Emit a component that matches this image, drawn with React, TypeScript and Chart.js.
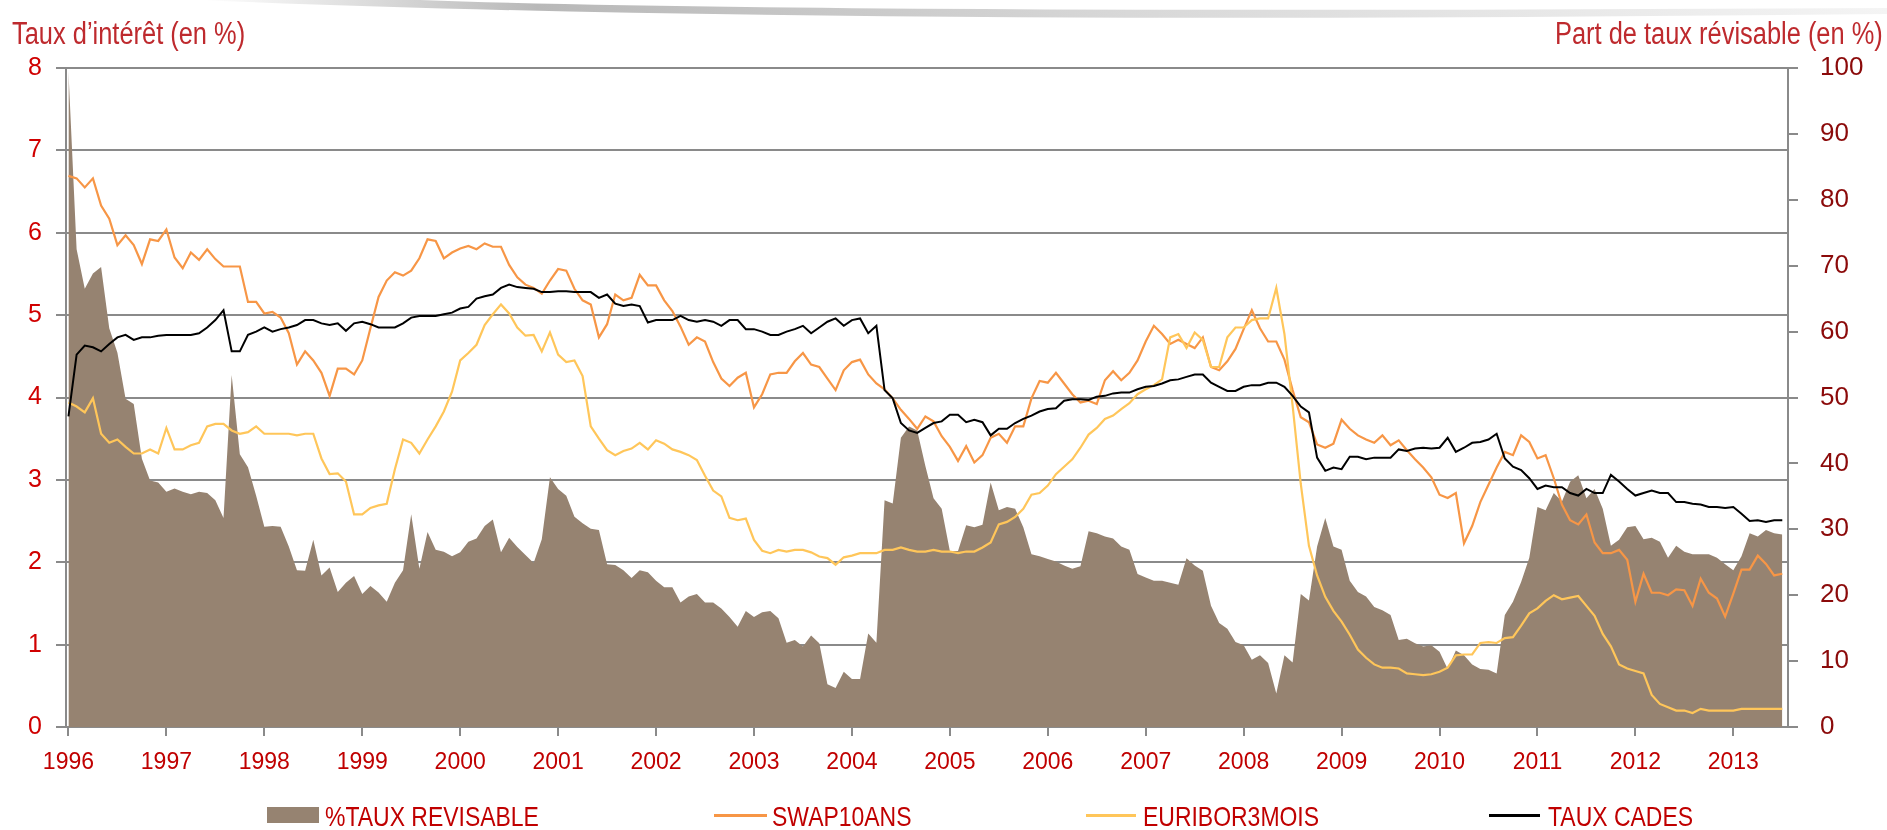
import React, { useEffect, useRef } from "react";
import { Chart, registerables } from "chart.js";

Chart.register(...registerables);

// ---------- DATA (monthly, Jan 1996 - Jul 2013) ----------
const START_YEAR = 1996;
const YEAR_LABELS = [1996, 1997, 1998, 1999, 2000, 2001, 2002, 2003, 2004, 2005, 2006, 2007, 2008, 2009, 2010, 2011, 2012, 2013];

// %TAUX REVISABLE (right axis, %)
const tauxRevisable = [
  99.5, 72.5, 66.5, 68.8, 69.8, 60.5, 56.8, 49.8, 49.0, 40.7, 37.4, 37.1,
  35.7, 36.2, 35.7, 35.3, 35.7, 35.5, 34.4, 31.7, 53.4, 41.4, 39.4, 35.1,
  30.4, 30.5, 30.4, 27.4, 23.8, 23.7, 28.4, 23.0, 24.2, 20.5, 21.9, 22.9,
  20.2, 21.4, 20.4, 19.0, 21.9, 23.8, 32.3, 24.0, 29.6, 26.9, 26.6, 25.9,
  26.5, 28.1, 28.6, 30.5, 31.5, 26.5, 28.7, 27.3, 26.1, 24.9, 28.5, 37.9,
  36.1, 35.1, 31.9, 30.9, 30.1, 29.9, 24.7, 24.6, 23.8, 22.6, 23.8, 23.5,
  22.2, 21.2, 21.2, 18.9, 19.8, 20.2, 18.9, 18.9, 18.0, 16.7, 15.2, 17.6,
  16.7, 17.4, 17.6, 16.5, 12.8, 13.2, 12.2, 13.9, 12.7, 6.5, 5.9, 8.4,
  7.3, 7.3, 14.2, 12.8, 34.4, 33.9, 43.9, 45.6, 45.0, 39.6, 34.7, 33.1,
  26.7, 26.7, 30.6, 30.3, 30.7, 37.1, 32.9, 33.4, 33.1, 30.3, 26.2, 25.9,
  25.5, 25.1, 24.5, 24.0, 24.4, 29.7, 29.4, 28.9, 28.6, 27.4, 26.9, 23.2,
  22.7, 22.2, 22.2, 21.9, 21.6, 25.6, 24.5, 23.7, 18.4, 15.8, 14.9, 12.9,
  12.4, 10.2, 10.9, 9.7, 5.1, 10.9, 9.8, 20.2, 19.2, 27.4, 31.7, 27.4,
  26.9, 22.2, 20.5, 19.8, 18.2, 17.7, 17.0, 13.2, 13.4, 12.7, 12.2, 12.4,
  11.4, 8.8, 11.6, 10.9, 9.5, 8.8, 8.7, 8.1, 17.0, 19.0, 22.0, 25.7,
  33.4, 32.9, 35.5, 34.2, 37.2, 38.2, 34.7, 36.1, 33.1, 27.5, 28.4, 30.3,
  30.5, 28.5, 28.7, 28.1, 25.7, 27.5, 26.6, 26.2, 26.2, 26.2, 25.7, 24.7,
  23.8, 25.9, 29.4, 28.9, 29.9, 29.4, 29.2,
];

// SWAP10ANS (left axis, %)
const swap10ans = [
  6.69, 6.66, 6.55, 6.66, 6.33, 6.17, 5.85, 5.97, 5.85, 5.62, 5.92, 5.90,
  6.04, 5.70, 5.57, 5.76, 5.67, 5.80, 5.68, 5.59, 5.59, 5.59, 5.16, 5.16,
  5.02, 5.04, 4.97, 4.78, 4.40, 4.56, 4.45, 4.30, 4.02, 4.35, 4.35, 4.28,
  4.45, 4.84, 5.22, 5.42, 5.52, 5.48, 5.54, 5.69, 5.92, 5.90, 5.69, 5.76,
  5.81, 5.84, 5.80, 5.87, 5.83, 5.83, 5.61, 5.46, 5.37, 5.33, 5.26, 5.42,
  5.56, 5.54, 5.32, 5.18, 5.13, 4.73, 4.89, 5.25, 5.18, 5.21, 5.49, 5.36,
  5.36, 5.18, 5.05, 4.86, 4.64, 4.73, 4.68, 4.43, 4.23, 4.14, 4.24, 4.30,
  3.88, 4.04, 4.28, 4.30, 4.30, 4.44, 4.54, 4.40, 4.37, 4.23, 4.09, 4.33,
  4.43, 4.46, 4.28, 4.17, 4.10, 3.99, 3.85, 3.74, 3.62, 3.77, 3.71, 3.53,
  3.40, 3.23, 3.41, 3.21, 3.30, 3.51, 3.56, 3.45, 3.65, 3.65, 3.99, 4.20,
  4.18, 4.30, 4.17, 4.04, 3.94, 3.96, 3.92, 4.21, 4.32, 4.21, 4.30, 4.45,
  4.68, 4.87, 4.77, 4.65, 4.70, 4.65, 4.60, 4.73, 4.37, 4.33, 4.44, 4.59,
  4.83, 5.06, 4.84, 4.68, 4.68, 4.46, 4.09, 3.76, 3.70, 3.43, 3.39, 3.44,
  3.73, 3.62, 3.54, 3.49, 3.45, 3.54, 3.42, 3.48, 3.36, 3.25, 3.15, 3.03,
  2.82, 2.78, 2.84, 2.23, 2.44, 2.73, 2.94, 3.15, 3.34, 3.30, 3.54, 3.46,
  3.26, 3.30, 3.02, 2.70, 2.51, 2.46, 2.58, 2.24, 2.11, 2.11, 2.15, 2.03,
  1.52, 1.86, 1.63, 1.63, 1.60, 1.67, 1.66, 1.47, 1.80, 1.63, 1.56, 1.34,
  1.62, 1.91, 1.91, 2.08, 1.98, 1.84, 1.86,
];

// EURIBOR3MOIS (left axis, %)
const euribor3mois = [
  3.94, 3.89, 3.82, 3.99, 3.56, 3.45, 3.49, 3.40, 3.32, 3.32, 3.37, 3.32,
  3.63, 3.37, 3.37, 3.42, 3.45, 3.65, 3.68, 3.68, 3.60, 3.56, 3.58, 3.65,
  3.56, 3.56, 3.56, 3.56, 3.54, 3.56, 3.56, 3.26, 3.07, 3.08, 2.98, 2.58,
  2.58, 2.66, 2.69, 2.71, 3.13, 3.49, 3.45, 3.32, 3.49, 3.65, 3.83, 4.07,
  4.45, 4.54, 4.64, 4.88, 5.01, 5.13, 5.02, 4.85, 4.75, 4.76, 4.56, 4.79,
  4.52, 4.43, 4.45, 4.26, 3.65, 3.50, 3.36, 3.30, 3.35, 3.38, 3.45, 3.37,
  3.48, 3.44, 3.37, 3.34, 3.30, 3.24, 3.05, 2.87, 2.80, 2.54, 2.51, 2.53,
  2.27, 2.14, 2.11, 2.15, 2.13, 2.15, 2.15, 2.12, 2.07, 2.05, 1.97, 2.06,
  2.08, 2.11, 2.11, 2.11, 2.15, 2.15, 2.18, 2.15, 2.13, 2.13, 2.15, 2.13,
  2.13, 2.11, 2.13, 2.13, 2.18, 2.24, 2.46, 2.49, 2.55, 2.65, 2.82, 2.84,
  2.93, 3.07, 3.16, 3.25, 3.39, 3.55, 3.63, 3.74, 3.78, 3.86, 3.93, 4.04,
  4.10, 4.15, 4.22, 4.73, 4.77, 4.60, 4.79, 4.70, 4.37, 4.37, 4.73, 4.85,
  4.85, 4.94, 4.96, 4.96, 5.33, 4.77, 3.90, 2.95, 2.20, 1.84, 1.58, 1.41,
  1.28, 1.12, 0.94, 0.84, 0.76, 0.72, 0.72, 0.71, 0.65, 0.64, 0.63, 0.64,
  0.67, 0.72, 0.87, 0.88, 0.88, 1.02, 1.03, 1.02, 1.08, 1.09, 1.23, 1.38,
  1.44, 1.53, 1.60, 1.55, 1.57, 1.59, 1.47, 1.35, 1.13, 0.98, 0.76, 0.71,
  0.68, 0.65, 0.39, 0.28, 0.24, 0.20, 0.20, 0.17, 0.22, 0.20, 0.20, 0.20,
  0.20, 0.22, 0.22, 0.22, 0.22, 0.22, 0.22,
];

// TAUX CADES (left axis, %)
const tauxCades = [
  3.77, 4.52, 4.63, 4.61, 4.56, 4.65, 4.73, 4.76, 4.70, 4.73, 4.73, 4.75,
  4.76, 4.76, 4.76, 4.76, 4.78, 4.85, 4.94, 5.06, 4.56, 4.56, 4.76, 4.80,
  4.85, 4.80, 4.83, 4.85, 4.88, 4.94, 4.94, 4.90, 4.88, 4.90, 4.81, 4.90,
  4.92, 4.89, 4.85, 4.85, 4.85, 4.90, 4.97, 4.99, 4.99, 4.99, 5.01, 5.03,
  5.08, 5.10, 5.20, 5.23, 5.25, 5.33, 5.37, 5.34, 5.33, 5.32, 5.28, 5.28,
  5.29, 5.29, 5.28, 5.28, 5.28, 5.21, 5.25, 5.14, 5.11, 5.13, 5.11, 4.91,
  4.94, 4.94, 4.94, 4.99, 4.94, 4.92, 4.94, 4.92, 4.87, 4.94, 4.94, 4.83,
  4.83, 4.80, 4.76, 4.76, 4.80, 4.83, 4.87, 4.78, 4.85, 4.92, 4.96, 4.87,
  4.94, 4.96, 4.78, 4.87, 4.09, 3.99, 3.69, 3.60, 3.57, 3.63, 3.69, 3.71,
  3.79, 3.79, 3.70, 3.73, 3.70, 3.54, 3.62, 3.62, 3.69, 3.74, 3.78, 3.83,
  3.86, 3.87, 3.96, 3.98, 3.98, 3.97, 4.01, 4.02, 4.05, 4.06, 4.06, 4.10,
  4.13, 4.14, 4.17, 4.21, 4.22, 4.25, 4.28, 4.28, 4.18, 4.13, 4.08, 4.08,
  4.13, 4.15, 4.15, 4.18, 4.18, 4.13, 4.02, 3.89, 3.82, 3.27, 3.11, 3.15,
  3.13, 3.28, 3.28, 3.25, 3.27, 3.27, 3.27, 3.37, 3.35, 3.38, 3.39, 3.38,
  3.39, 3.51, 3.34, 3.39, 3.45, 3.46, 3.49, 3.56, 3.26, 3.16, 3.12, 3.02,
  2.89, 2.93, 2.91, 2.91, 2.84, 2.81, 2.89, 2.84, 2.84, 3.06, 2.98, 2.89,
  2.81, 2.84, 2.87, 2.84, 2.84, 2.73, 2.73, 2.71, 2.70, 2.67, 2.67, 2.66,
  2.67, 2.59, 2.50, 2.51, 2.49, 2.51, 2.51,
];

const LEGEND_LABELS = ["%TAUX REVISABLE", "SWAP10ANS", "EURIBOR3MOIS", "TAUX CADES"];

// ---------- STYLE ----------
const SANS = '"Liberation Sans", Arial, sans-serif';
const GRID = "#8a8a8a";
const AREA = "#968371";
const ORANGE = "#F79646";
const YELLOW = "#FFC65A";
const BLACK = "#000000";
const NARROW_X = 0.82; // horizontal condensation used to mimic Arial Narrow

const toPoints = (arr: number[]) => arr.map((y, i) => ({ x: i, y }));

export default function App() {
  const canvasRef = useRef<HTMLCanvasElement | null>(null);

  useEffect(() => {
    if (!canvasRef.current) return;
    const chart = new Chart(canvasRef.current, {
      type: "line",
      data: {
        datasets: [
          {
            label: LEGEND_LABELS[0],
            data: toPoints(tauxRevisable),
            yAxisID: "y1",
            fill: "origin",
            backgroundColor: AREA,
            borderColor: AREA,
            borderWidth: 0,
            pointRadius: 0,
            order: 4,
          },
          {
            label: LEGEND_LABELS[1],
            data: toPoints(swap10ans),
            yAxisID: "y",
            borderColor: ORANGE,
            borderWidth: 2.2,
            pointRadius: 0,
            fill: false,
            order: 3,
          },
          {
            label: LEGEND_LABELS[2],
            data: toPoints(euribor3mois),
            yAxisID: "y",
            borderColor: YELLOW,
            borderWidth: 2.2,
            pointRadius: 0,
            fill: false,
            order: 2,
          },
          {
            label: LEGEND_LABELS[3],
            data: toPoints(tauxCades),
            yAxisID: "y",
            borderColor: BLACK,
            borderWidth: 2,
            pointRadius: 0,
            fill: false,
            order: 1,
          },
        ],
      },
      options: {
        responsive: false,
        maintainAspectRatio: false,
        animation: false,
        events: [],
        layout: { padding: { top: 68, left: 0, right: 0, bottom: 0 } },
        elements: { line: { tension: 0 }, point: { radius: 0 } },
        plugins: {
          legend: { display: false },
          tooltip: { enabled: false },
          title: { display: false },
        },
        scales: {
          x: {
            type: "linear",
            min: -0.3,
            max: tauxCades.length - 0.3,
            afterBuildTicks: (scale: any) => {
              scale.ticks = YEAR_LABELS.map((y) => ({ value: (y - START_YEAR) * 12 }));
            },
            afterFit: (scale: any) => {
              scale.height = 103;
            },
            ticks: {
              autoSkip: false,
              maxRotation: 0,
              minRotation: 0,
              padding: 13,
              color: "#C00000",
              font: { family: SANS, size: 23 },
              callback: (v: any) => String(START_YEAR + Math.round(Number(v) / 12)),
            },
            grid: {
              drawOnChartArea: false,
              drawTicks: true,
              tickLength: 9,
              color: GRID,
              lineWidth: 2,
            },
            border: { display: true, color: GRID, width: 2 },
          },
          y: {
            position: "left",
            min: 0,
            max: 8,
            afterFit: (scale: any) => {
              scale.width = 66;
            },
            ticks: {
              stepSize: 1,
              padding: 14,
              color: "#D00000",
              font: { family: SANS, size: 25 },
            },
            grid: {
              color: GRID,
              lineWidth: 2,
              drawTicks: true,
              tickLength: 10,
            },
            border: { display: true, color: GRID, width: 2 },
          },
          y1: {
            position: "right",
            min: 0,
            max: 100,
            afterFit: (scale: any) => {
              scale.width = 99;
            },
            ticks: {
              stepSize: 10,
              padding: 22,
              color: "#8B0A0A",
              font: { family: SANS, size: 26 },
            },
            grid: {
              drawOnChartArea: false,
              drawTicks: true,
              tickLength: 10,
              color: GRID,
              lineWidth: 2,
            },
            border: { display: true, color: GRID, width: 2 },
          },
        },
      } as any,
    });
    return () => chart.destroy();
  }, []);

  const legendText = (left: number): React.CSSProperties => ({
    position: "absolute",
    left,
    top: 803,
    fontFamily: SANS,
    fontSize: 28,
    lineHeight: "28px",
    color: "#C00000",
    whiteSpace: "nowrap",
    transform: `scaleX(${NARROW_X})`,
    transformOrigin: "left center",
  });
  const lineSwatch = (left: number, width: number, color: string): React.CSSProperties => ({
    position: "absolute",
    left,
    top: 814,
    width,
    height: 3,
    background: color,
  });
  const titleStyle: React.CSSProperties = {
    position: "absolute",
    top: 18,
    fontFamily: SANS,
    fontSize: 31,
    lineHeight: "31px",
    color: "#BE2A2E",
    whiteSpace: "nowrap",
  };

  return (
    <div
      style={{
        position: "absolute",
        left: 0,
        top: 0,
        width: 1887,
        height: 830,
        background: "#ffffff",
        overflow: "hidden",
      }}
    >
      <svg width={1887} height={30} style={{ position: "absolute", left: 0, top: 0 }}>
        <defs>
          <linearGradient id="sw" x1="0" y1="0" x2="1" y2="0">
            <stop offset="0" stopColor="#ffffff" />
            <stop offset="0.2" stopColor="#b8b8b8" />
            <stop offset="0.55" stopColor="#d8d8d8" />
            <stop offset="1" stopColor="#f4f4f4" />
          </linearGradient>
        </defs>
        <path d="M 200 0 Q 800 26 1887 14 L 1887 8 Q 800 14 420 0 Z" fill="url(#sw)" />
      </svg>
      <canvas
        ref={canvasRef}
        width={1887}
        height={830}
        style={{ position: "absolute", left: 0, top: 0, width: 1887, height: 830 }}
      />
      <div style={{ ...titleStyle, left: 12, transform: `scaleX(${NARROW_X})`, transformOrigin: "left center" }}>
        Taux d’intérêt (en %)
      </div>
      <div style={{ ...titleStyle, right: 4, transform: `scaleX(${NARROW_X})`, transformOrigin: "right center" }}>
        Part de taux révisable (en %)
      </div>
      <div style={{ position: "absolute", left: 267, top: 807, width: 52, height: 16, background: AREA }} />
      <div style={legendText(325)}>{LEGEND_LABELS[0]}</div>
      <div style={lineSwatch(714, 53, ORANGE)} />
      <div style={legendText(772)}>{LEGEND_LABELS[1]}</div>
      <div style={lineSwatch(1086, 50, YELLOW)} />
      <div style={legendText(1143)}>{LEGEND_LABELS[2]}</div>
      <div style={lineSwatch(1489, 51, BLACK)} />
      <div style={legendText(1548)}>{LEGEND_LABELS[3]}</div>
    </div>
  );
}
